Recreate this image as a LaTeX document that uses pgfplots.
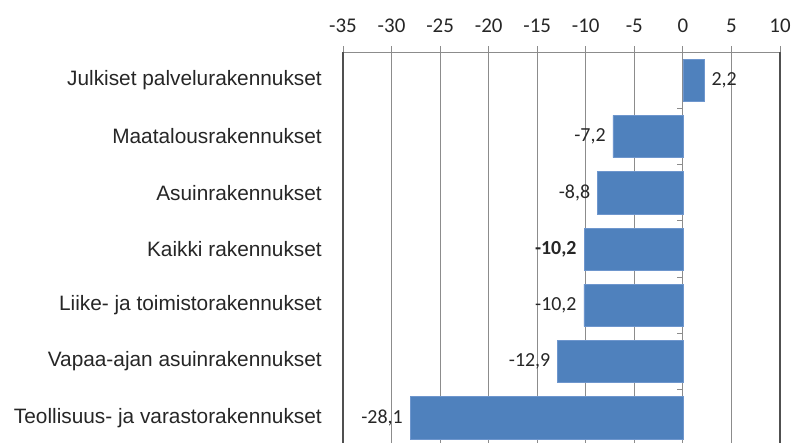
\documentclass[border=0pt]{standalone}
\usepackage{pgfplots}
\pgfplotsset{compat=1.18}
\usepackage{fontspec}
\setmainfont{Liberation Sans}
\newfontfamily\calibri{Carlito}
\definecolor{barblue}{RGB}{79,129,189}
\definecolor{baredge}{RGB}{110,150,205}
\definecolor{gridgray}{RGB}{140,140,140}
\definecolor{framegray}{RGB}{80,80,80}
\begin{document}
\begin{tikzpicture}
\path[use as bounding box] (0,0) rectangle (792bp,-443bp);
\begin{axis}[
  at={(343bp,-52bp)}, anchor=north west,
  scale only axis, width=437bp, height=394bp,
  xmin=-35, xmax=10, ymin=-0.5, ymax=6.5, y dir=reverse,
  xtick={-35,-30,...,10},
  xtick pos=right, xticklabel pos=right,
  tick align=center, major tick length=12bp,
  xtick style={gridgray, line width=0.8bp},
  xmajorgrids, grid style={gridgray, line width=0.9bp},
  separate axis lines,
  x axis line style={gridgray, line width=0.9bp},
  y axis line style={framegray, line width=1.6bp},
  ytick={0,...,6},
  yticklabels={Julkiset palvelurakennukset, Maatalousrakennukset, Asuinrakennukset, Kaikki rakennukset, Liike- ja toimistorakennukset, Vapaa-ajan asuinrakennukset, Teollisuus- ja varastorakennukset},
  ytick style={draw=none},
  yticklabel style={font=\fontsize{20.9}{24}\selectfont, text=black!85, inner sep=0pt, xshift=-9bp},
  xticklabel style={font=\calibri\fontsize{21}{24}\selectfont, text=black!85, yshift=10bp},
  /pgf/number format/assume math mode=true,
  xbar, bar width=0.75, bar shift=0pt,
  nodes near coords={\pgfmathprintnumber[use comma,fixed,precision=1,fixed zerofill,assume math mode=true]{\pgfplotspointmeta}},
  every node near coord/.append style={font=\calibri\fontsize{20}{24}\selectfont, text=black!85, inner sep=7bp},
  clip=false,
]
\addplot[fill=barblue, draw=baredge, line width=0.6bp] coordinates {
  (2.2,0) (-7.2,1) (-8.8,2) (-10.2,4) (-12.9,5) (-28.1,6)
};
\addplot[fill=barblue, draw=baredge, line width=0.6bp,
  every node near coord/.append style={font=\calibri\bfseries\fontsize{20}{24}\selectfont}] coordinates {
  (-10.2,3)
};
\foreach \yy in {0.5,1.5,2.5,3.5,4.5,5.5} {
  \edef\tmp{\noexpand\draw[gridgray, line width=0.8bp] (axis cs:0,\yy) -- ([xshift=-6bp]axis cs:0,\yy);}
  \tmp
}
\end{axis}
\end{tikzpicture}
\end{document}
